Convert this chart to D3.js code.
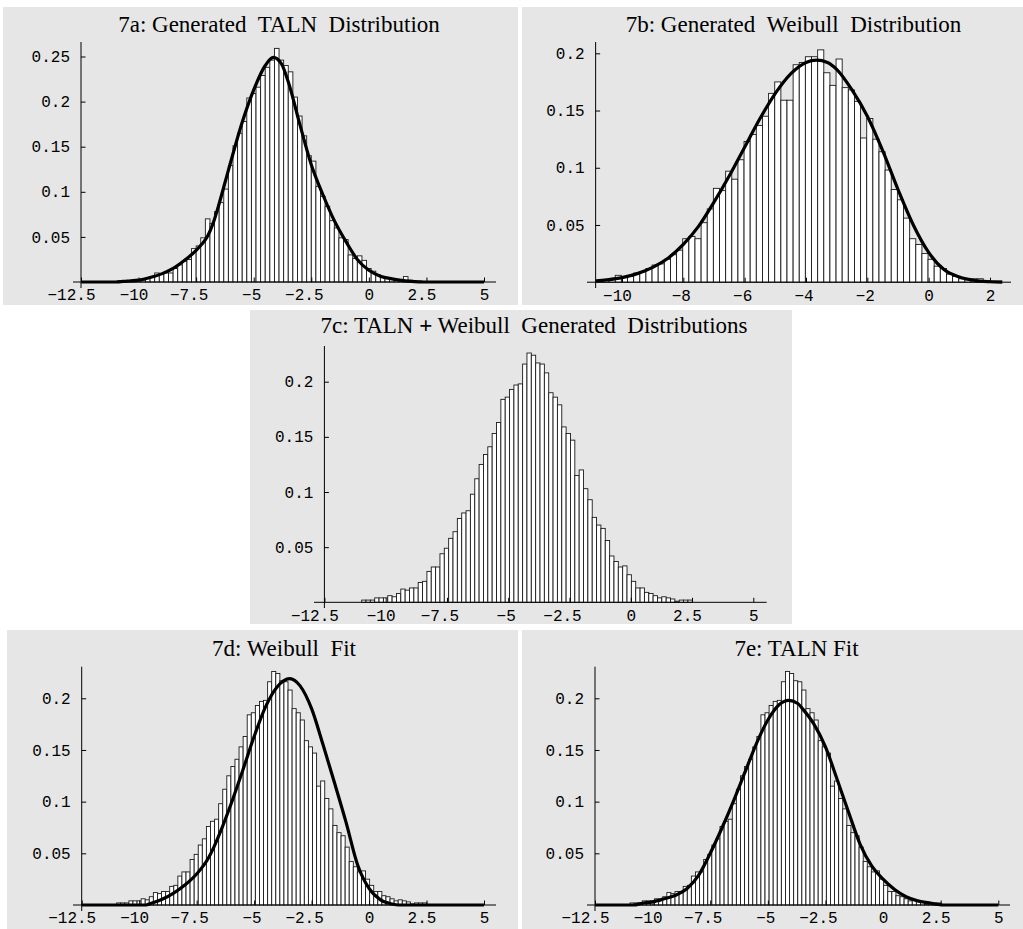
<!DOCTYPE html>
<html>
<head>
<meta charset="utf-8">
<script src="https://cdn.jsdelivr.net/npm/d3@7"></script>
<style>
  body { margin: 0; background: #fff; }
  .title { font-family: "Liberation Serif", "Times New Roman", serif; font-size: 23px; white-space: pre; fill: #000; }
  .tick text { font-family: "Liberation Mono", "Courier New", monospace; font-size: 16px; fill: #000; }
</style>
</head>
<body>
<div id="chart"></div>
<script>
// 7a histogram (TALN sample), bins of 0.2 starting at -10.9
var talnStart = -10.9, talnWidth = 0.2;
var talnHeights = [0.0015, 0, 0.001, 0.002, 0.002, 0.002, 0.004, 0.005, 0.010, 0.009,
  0.010, 0.010, 0.015, 0.019, 0.023, 0.025, 0.037, 0.040, 0.049, 0.070,
  0.065, 0.078, 0.088, 0.103, 0.129, 0.151, 0.165, 0.178, 0.204, 0.209,
  0.216, 0.229, 0.238, 0.246, 0.259, 0.246, 0.240, 0.233, 0.205, 0.184,
  0.162, 0.140, 0.134, 0.106, 0.095, 0.084, 0.068, 0.060, 0.049, 0.047,
  0.030, 0.026, 0.029, 0.024, 0.015, 0.012, 0.008, 0.006, 0.005, 0.004,
  0.003, 0.002, 0.006, 0.002, 0.001, 0.001, 0];

// 7b histogram (Weibull sample)
var weibullStart = -10.82, weibullWidth = 0.2;
var weibullHeights = [0.002, 0.002, 0.003, 0.006, 0.004, 0.005, 0.008, 0.009, 0.012, 0.015,
  0.016, 0.020, 0.024, 0.028, 0.038, 0.040, 0.038, 0.052, 0.064, 0.082,
  0.080, 0.097, 0.090, 0.107, 0.123, 0.129, 0.137, 0.145, 0.165, 0.175,
  0.159, 0.159, 0.190, 0.192, 0.197, 0.197, 0.203, 0.183, 0.172, 0.195,
  0.170, 0.168, 0.158, 0.126, 0.143, 0.125, 0.114, 0.098, 0.081, 0.072,
  0.056, 0.038, 0.033, 0.025, 0.020, 0.014, 0.012, 0.007, 0.005, 0.003,
  0.002, 0.003, 0.003, 0.001, 0.001, 0.001];

// 7c/7d/7e histogram (TALN + Weibull sample)
var mixStart = -10.98, mixWidth = 0.1775;
var mixHeights = [0.002, 0.002, 0.002, 0.004, 0.004, 0.004, 0.006, 0.005, 0.008, 0.012,
  0.011, 0.013, 0.013, 0.018, 0.019, 0.028, 0.032, 0.032, 0.044, 0.049,
  0.058, 0.064, 0.076, 0.081, 0.083, 0.098, 0.112, 0.125, 0.134, 0.141,
  0.153, 0.163, 0.184, 0.186, 0.193, 0.197, 0.198, 0.216, 0.226, 0.224,
  0.217, 0.216, 0.208, 0.190, 0.186, 0.179, 0.159, 0.153, 0.147, 0.115,
  0.120, 0.103, 0.093, 0.077, 0.070, 0.067, 0.056, 0.042, 0.037, 0.032,
  0.033, 0.025, 0.019, 0.013, 0.013, 0.009, 0.008, 0.006, 0.004, 0.005,
  0.004, 0.003, 0.001, 0.002, 0.002, 0.002];

// density curves [x, density]
var talnCurve = [[-12.5, 0], [-11, 0], [-10.5, 0.001], [-10, 0.002], [-9.5, 0.005], [-9, 0.009],
  [-8.5, 0.015], [-8, 0.024], [-7.5, 0.035], [-7.25, 0.042], [-7, 0.051], [-6.75, 0.066],
  [-6.5, 0.087], [-6.25, 0.110], [-6, 0.133], [-5.5, 0.177], [-5, 0.213], [-4.5, 0.240],
  [-4.15, 0.249], [-3.8, 0.242], [-3.5, 0.222], [-3, 0.175], [-2.5, 0.130], [-2, 0.097],
  [-1.5, 0.068], [-1, 0.045], [-0.5, 0.025], [0, 0.013], [0.5, 0.0065], [1, 0.0035],
  [1.5, 0.0015], [2, 0.0005], [2.5, 0], [5, 0]];

var weibullCurve = [[-10.86, 0.001], [-10.5, 0.002], [-10, 0.004], [-9.5, 0.0075], [-9, 0.013],
  [-8.5, 0.021], [-8, 0.033], [-7.5, 0.049], [-7, 0.070], [-6.5, 0.093], [-6, 0.118],
  [-5.5, 0.143], [-5, 0.165], [-4.5, 0.182], [-4, 0.192], [-3.65, 0.194], [-3.3, 0.192],
  [-3, 0.186], [-2.5, 0.168], [-2, 0.145], [-1.5, 0.115], [-1, 0.081], [-0.5, 0.050],
  [0, 0.026], [0.5, 0.011], [1, 0.0045], [1.5, 0.0015], [2, 0.0004], [2.4, 0]];

var weibullFitCurve = [[-12.5, 0], [-9.7, 0], [-9.5, 0.0015], [-9, 0.0055], [-8.5, 0.0115],
  [-8, 0.0195], [-7.5, 0.030], [-7, 0.045], [-6.75, 0.056], [-6.5, 0.069], [-6, 0.098],
  [-5.5, 0.130], [-5, 0.163], [-4.5, 0.192], [-4, 0.211], [-3.45, 0.219], [-3, 0.212],
  [-2.5, 0.190], [-2, 0.155], [-1.5, 0.118], [-1, 0.080], [-0.5, 0.039], [0, 0.016],
  [0.5, 0.005], [1, 0.001], [1.3, 0], [5, 0]];

var talnFitCurve = [[-12.5, 0], [-10.8, 0], [-10.5, 0.0015], [-10, 0.003], [-9.5, 0.006],
  [-9, 0.0095], [-8.5, 0.016], [-8, 0.029], [-7.5, 0.050], [-7, 0.074], [-6.5, 0.100],
  [-6, 0.128], [-5.5, 0.156], [-5, 0.179], [-4.5, 0.194], [-4.1, 0.198], [-3.7, 0.195],
  [-3.5, 0.190], [-3, 0.175], [-2.5, 0.153], [-2, 0.122], [-1.5, 0.090], [-1, 0.059],
  [-0.5, 0.038], [0, 0.025], [0.5, 0.015], [1, 0.008], [1.5, 0.004], [2, 0.002],
  [2.4, 0.0005], [2.6, 0], [5, 0]];

// tick values
var xTicksWide = [-12.5, -10, -7.5, -5, -2.5, 0, 2.5, 5];
var xTicksB = [-10, -8, -6, -4, -2, 0, 2];
var yTicksA = [0.05, 0.1, 0.15, 0.2, 0.25];
var yTicksRest = [0.05, 0.1, 0.15, 0.2];

var titles = {
  a: ["7a: Generated  TALN  Distribution"],
  b: ["7b: Generated  Weibull  Distribution"],
  c: ["7c: TALN ", "+", " Weibull  Generated  Distributions"],
  d: ["7d: Weibull  Fit"],
  e: ["7e: TALN Fit"]
};

var panels = [
  { box: [3, 7, 515, 298], xRef: [-12.5, 81, 5, 484], yRef: [0, 282, 0.25, 56.5],
    xAxis: [73, 496], yAxis: [42, 288], origin: -12.5, xTicks: xTicksWide, yTicks: yTicksA,
    bars: { start: talnStart, width: talnWidth, h: talnHeights }, curve: talnCurve,
    title: titles.a, titlePos: [279, 32] },
  { box: [522, 7, 501, 298], xRef: [-10, 622, 2, 990], yRef: [0, 282.2, 0.2, 53.3],
    xAxis: [587, 1011], yAxis: [42, 288], origin: -10.86, xTicks: xTicksB, yTicks: yTicksRest,
    bars: { start: weibullStart, width: weibullWidth, h: weibullHeights }, curve: weibullCurve,
    title: titles.b, titlePos: [793.5, 32] },
  { box: [250, 310, 542, 314], xRef: [-12.5, 324.4, 5, 753.3], yRef: [0, 602.3, 0.2, 381.7],
    xAxis: [314, 766.7], yAxis: [346, 608], origin: -12.5, xTicks: xTicksWide, yTicks: yTicksRest,
    bars: { start: mixStart, width: mixWidth, h: mixHeights }, curve: null,
    title: titles.c, titlePos: [534, 333] },
  { box: [7, 630, 511, 299], xRef: [-12.5, 81.7, 5, 484], yRef: [0, 905, 0.2, 698.3],
    xAxis: [73, 496], yAxis: [666.7, 911], origin: -12.5, xTicks: xTicksWide, yTicks: yTicksRest,
    bars: { start: mixStart, width: mixWidth, h: mixHeights }, curve: weibullFitCurve,
    title: titles.d, titlePos: [284, 656] },
  { box: [522, 630, 501, 299], xRef: [-12.5, 595, 5, 998.3], yRef: [0, 905, 0.2, 698.3],
    xAxis: [587, 1010], yAxis: [666.7, 911], origin: -12.5, xTicks: xTicksWide, yTicks: yTicksRest,
    bars: { start: mixStart, width: mixWidth, h: mixHeights }, curve: talnFitCurve,
    title: titles.e, titlePos: [796.5, 656] }
];

var svg = d3.select("#chart")
  .append("svg")
  .attr("width", 1023)
  .attr("height", 929);

function fmt(d) {
  return String(d).replace("-", "\u2212");
}

function minorTicks(lo, hi, step, majors) {
  var out = [];
  for (var k = Math.ceil(lo / step); k <= Math.floor(hi / step); k++) {
    var v = k * step;
    if (!majors.some(function (m) { return Math.abs(m - v) < 1e-6; })) out.push(v);
  }
  return out;
}

function drawPanel(p) {
  var g = svg.append("g");

  g.append("rect")
    .attr("x", p.box[0]).attr("y", p.box[1])
    .attr("width", p.box[2]).attr("height", p.box[3])
    .attr("fill", "#e6e6e6");

  var x = d3.scaleLinear().domain([p.xRef[0], p.xRef[2]]).range([p.xRef[1], p.xRef[3]]);
  var y = d3.scaleLinear().domain([p.yRef[0], p.yRef[2]]).range([p.yRef[1], p.yRef[3]]);

  // bars
  var b = p.bars;
  g.append("g")
    .selectAll("rect")
    .data(b.h)
    .enter()
    .append("rect")
    .attr("x", function (d, i) { return x(b.start + i * b.width); })
    .attr("width", x(b.width) - x(0))
    .attr("y", function (d) { return y(d); })
    .attr("height", function (d) { return y(0) - y(d); })
    .attr("fill", "#fff")
    .attr("stroke", "#1a1a1a")
    .attr("stroke-width", 0.9);

  // x axis
  var xLo = x.invert(p.xAxis[0]), xHi = x.invert(p.xAxis[1]);
  var xStep = (p.xTicks[1] - p.xTicks[0]) / 5;
  var xg = g.append("g").attr("transform", "translate(0," + y(0) + ")");
  xg.call(d3.axisBottom(x).tickValues(minorTicks(xLo, xHi, xStep, p.xTicks))
      .tickSize(-2.5).tickFormat(""));
  xg.call(d3.axisBottom(x).tickValues(p.xTicks).tickSize(-4.5).tickPadding(7).tickFormat(fmt));
  xg.selectAll(".domain").remove();
  xg.selectAll(".tick text").attr("dx", function (d) { return -2.5 * (fmt(d).length - 1); });
  xg.append("line")
    .attr("x1", p.xAxis[0]).attr("x2", p.xAxis[1])
    .attr("stroke", "#000");

  // y axis
  var yTop = y.invert(p.yAxis[0]);
  var yg = g.append("g").attr("transform", "translate(" + x(p.origin) + ",0)");
  yg.call(d3.axisLeft(y).tickValues(minorTicks(0.001, yTop, 0.01, p.yTicks))
      .tickSize(-2.5).tickFormat(""));
  yg.call(d3.axisLeft(y).tickValues(p.yTicks).tickSize(-4.5).tickPadding(11).tickFormat(fmt));
  yg.selectAll(".domain").remove();
  yg.append("line")
    .attr("y1", p.yAxis[0]).attr("y2", p.yAxis[1])
    .attr("stroke", "#000");

  // fitted / generating density
  if (p.curve) {
    g.append("path")
      .datum(p.curve)
      .attr("d", d3.line()
        .x(function (d) { return x(d[0]); })
        .y(function (d) { return y(d[1]); })
        .curve(d3.curveMonotoneX))
      .attr("fill", "none")
      .attr("stroke", "#000")
      .attr("stroke-width", 3.2)
      .attr("stroke-linejoin", "round");
  }

  // title
  var t = g.append("text")
    .attr("class", "title")
    .attr("x", p.titlePos[0])
    .attr("y", p.titlePos[1])
    .attr("text-anchor", "middle");
  p.title.forEach(function (s, i) {
    t.append("tspan").text(s).attr("font-weight", i === 1 ? "bold" : null);
  });
}

panels.forEach(drawPanel);
</script>
</body>
</html>
